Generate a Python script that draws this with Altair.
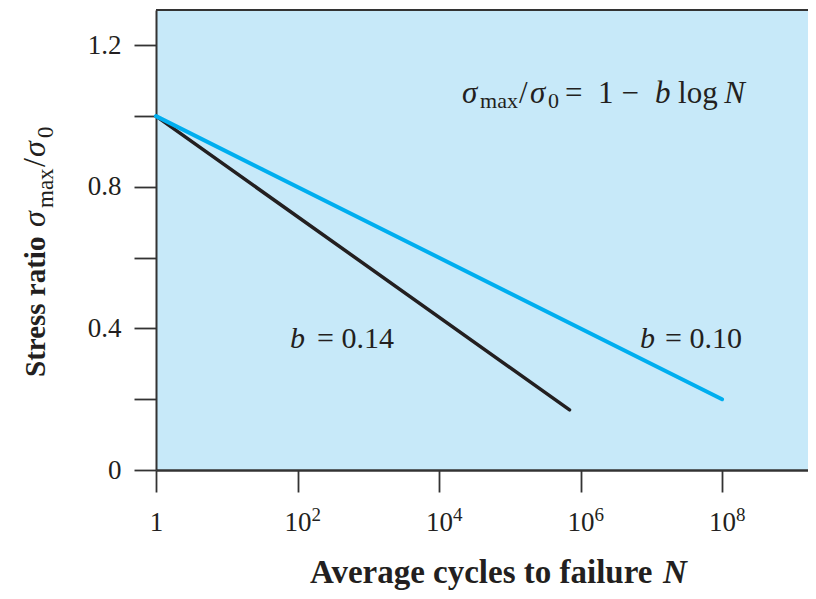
import altair as alt
import pandas as pd

# ---------------- data ----------------
n_b014 = [1, 7.0e5]
ratio_b014 = [1.0, 0.17]
n_b010 = [1, 1.0e8]
ratio_b010 = [1.0, 0.20]

y_tick_values = [0, 0.2, 0.4, 0.6, 0.8, 1.0, 1.2]
x_tick_values = [1, 1e2, 1e4, 1e6, 1e8]
x_tick_exponents = ["2", "4", "6", "8"]

# ---------------- styling ----------------
INK = "#231f20"
AXIS = "#333333"
BLUE = "#00aeef"
BG = "#c7e9f9"
SERIF = "Liberation Serif"
W, H = 652, 460

x_scale = alt.Scale(type="log", domain=[1, 10 ** 9.215], nice=False)
y_scale = alt.Scale(domain=[0, 1.3], nice=False)

df014 = pd.DataFrame({"N": n_b014, "ratio": ratio_b014})
df010 = pd.DataFrame({"N": n_b010, "ratio": ratio_b010})

x_axis = alt.Axis(
    values=x_tick_values, labelExpr="datum.value == 1 ? '1' : '10'",
    labelFont=SERIF, labelFontSize=27, labelColor=INK, labelBaseline="alphabetic",
    labelPadding=38, tickSize=22, tickWidth=1.8, tickColor=AXIS,
    domainColor=AXIS, domainWidth=2.5, grid=False, title=None, labelFlush=False,
)
y_axis = alt.Axis(
    values=y_tick_values,
    labelExpr="datum.value == 0 ? '0' : (round(datum.value * 10) % 4 == 0 ? format(datum.value, '.1f') : '')",
    labelFont=SERIF, labelFontSize=27, labelColor=INK, labelPadding=13,
    tickSize=22, tickWidth=1.8, tickColor=AXIS,
    domainColor=AXIS, domainWidth=2, grid=False, title=None,
)

line014 = alt.Chart(df014).mark_line(color=INK, strokeWidth=3.5, strokeCap="round").encode(
    x=alt.X("N:Q", scale=x_scale, axis=x_axis),
    y=alt.Y("ratio:Q", scale=y_scale, axis=y_axis),
)
line010 = alt.Chart(df010).mark_line(color=BLUE, strokeWidth=4, strokeCap="round").encode(
    x=alt.X("N:Q", scale=x_scale),
    y=alt.Y("ratio:Q", scale=y_scale),
)

top_border = alt.Chart(pd.DataFrame({"k": [0]})).mark_rule(color=AXIS, strokeWidth=2).encode(
    x=alt.value(0), x2=alt.value(W), y=alt.value(0)
)

# exponents of tick labels
exp_df = pd.DataFrame({"N": x_tick_values[1:], "t": x_tick_exponents})
exps = alt.Chart(exp_df).mark_text(
    font=SERIF, fontSize=19, color=INK, align="left", baseline="alphabetic", dx=14
).encode(x=alt.X("N:Q", scale=x_scale), y=alt.value(511), text="t:N")


# in-plot annotations (positions given as log10 N and ratio)
def pieces(rows):
    return pd.DataFrame({
        "t": [r[0] for r in rows],
        "N": [10 ** r[1] for r in rows],
        "ratio": [r[2] for r in rows],
    })


def text_layer(rows, size, style="normal", weight="normal"):
    return alt.Chart(pieces(rows)).mark_text(
        font=SERIF, fontSize=size, fontStyle=style, fontWeight=weight, color=INK,
        align="left", baseline="alphabetic",
    ).encode(x=alt.X("N:Q", scale=x_scale), y=alt.Y("ratio:Q", scale=y_scale), text="t:N")


f_base, f_sub = 1.0366, 1.0225
formula_it = text_layer([("σ", 4.325, f_base), ("σ", 5.286, f_base),
                         ("b", 7.053, f_base), ("N", 8.03, f_base)], 31, "italic")
formula_rm = text_layer([("/", 5.131, f_base), ("=", 5.781, f_base), ("1", 6.247, f_base),
                         ("−", 6.58, f_base), ("log", 7.378, f_base)], 31)
formula_sub = text_layer([("max", 4.580, f_sub), ("0", 5.541, f_sub)], 22)

b_base = 0.344
b_it = text_layer([("b", 1.894, b_base), ("b", 6.841, b_base)], 30, "italic")
b_rm = text_layer([("= 0.14", 2.276, b_base), ("= 0.10", 7.194, b_base)], 30)


# axis titles built from pieces (pixel positions relative to plot origin)
def px_text(t, x, y, size, style="normal", weight="normal", angle=0):
    return alt.Chart(pd.DataFrame({"t": [t]})).mark_text(
        font=SERIF, fontSize=size, fontStyle=style, fontWeight=weight, color=INK,
        align="left", baseline="alphabetic", angle=angle,
    ).encode(x=alt.value(x), y=alt.value(y), text="t:N")


y_title = [
    px_text("Stress ratio", -111, 367, 29, weight="bold", angle=270),
    px_text("σ", -111, 217, 32, style="italic", angle=270),
    px_text("max", -103, 198, 23, angle=270),
    px_text("/", -111, 157, 32, angle=270),
    px_text("σ", -111, 147, 32, style="italic", angle=270),
    px_text("0", -103, 128, 23, angle=270),
]
x_title = [
    px_text("Average cycles to failure", 154, 573, 33, weight="bold"),
    px_text("N", 507, 573, 33, style="italic", weight="bold"),
]

chart = alt.layer(
    line014, line010, top_border, exps,
    formula_it, formula_rm, formula_sub, b_it, b_rm,
    *y_title, *x_title,
).properties(
    width=W, height=H,
    padding={"left": 148, "top": 2, "right": 0, "bottom": 125},
    autosize=alt.AutoSizeParams(type="none"),
).configure_view(fill=BG, strokeWidth=0)

chart.save("out.html", embed_options={"renderer": "svg", "actions": False})
